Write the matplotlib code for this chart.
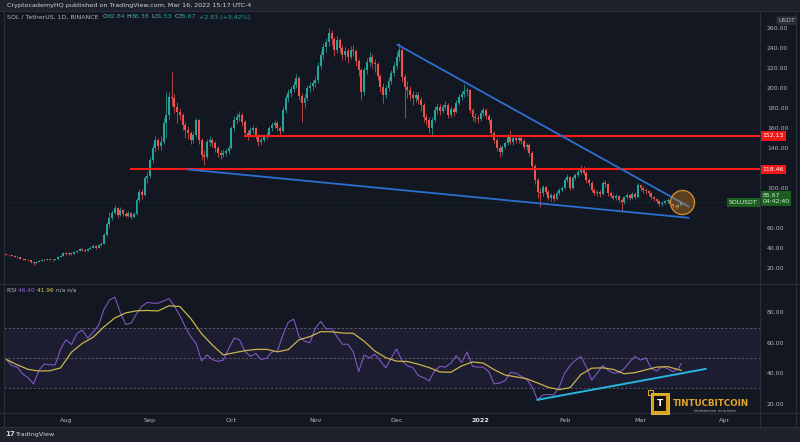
import matplotlib
matplotlib.use("Agg")
import matplotlib.pyplot as plt
import matplotlib.dates as mdates
from matplotlib.lines import Line2D
from matplotlib.patches import Rectangle
import pandas as pd

# SOL / TetherUS daily candles, 2021-07-10 .. 2022-03-16
START = "2021-07-10"
FIRST_OPEN = 33.6
closes = [
    33.2, 32.6, 32.1, 31.0, 30.4, 29.2, 28.6, 27.9, 27.4, 25.6,
    24.5, 26.1, 27.0, 28.2, 27.6, 28.6, 28.0, 27.7, 28.4, 31.1,
    32.2, 35.0, 33.4, 34.6, 34.0, 35.6, 37.1, 38.6, 38.0, 37.2,
    39.0, 40.2, 42.1, 39.6, 43.0, 44.0, 53.0, 63.5, 70.2, 75.0,
    80.0, 73.0, 78.0, 73.5, 72.0, 75.0, 70.5, 74.0, 88.0, 96.0,
    93, 110, 112, 128, 140, 148, 142, 146, 165, 173,
    191, 190, 181, 176, 173, 163, 158, 155, 148, 153,
    168, 148, 133, 131, 146, 148, 145, 140, 135, 133,
    135, 137, 140, 160, 168, 171, 173, 166, 155, 153,
    158, 160, 152, 146, 148, 151, 153, 160, 163, 165,
    160, 157, 178, 190, 195, 199, 203, 210, 192, 185,
    190, 200, 202, 205, 208, 222, 233, 241, 246, 255,
    249, 238, 248, 240, 233, 237, 231, 238, 237, 227,
    218, 196, 218, 226, 231, 225, 224, 212, 201, 193,
    200, 207, 215, 222, 231, 238, 211, 201, 198, 193,
    190, 193, 188, 183, 171, 168, 160, 168, 178, 181,
    177, 181, 183, 173, 179, 176, 185, 191, 194, 197,
    198, 178, 171, 170, 169, 175, 178, 172, 168, 155,
    148, 140, 136, 141, 145, 152, 146, 150, 148, 150,
    147, 141, 143, 135, 122, 108, 96, 95, 101, 96,
    90, 93, 89, 95, 98, 100, 108, 111, 100, 110,
    113, 116, 120, 115, 108, 105, 98, 95, 96, 94,
    105, 104, 95, 92, 90, 92, 88, 86, 91, 93,
    90, 94, 91, 103, 100, 98, 97, 95, 91, 89,
    87, 84, 85, 87, 88, 84, 82, 81, 82.84, 85.67,
]
highs = [
    34.5, 33.8, 33.0, 32.5, 31.8, 30.8, 29.6, 29.0, 28.3, 27.6,
    26.0, 26.6, 27.8, 28.9, 28.6, 29.2, 29.0, 28.4, 29.0, 31.8,
    33.0, 35.8, 36.2, 35.3, 35.1, 36.4, 38.0, 39.8, 39.6, 38.6,
    40.0, 41.3, 43.5, 42.6, 44.2, 45.6, 54.5, 65.8, 76.0, 78.0,
    82.5, 81.0, 80.5, 79.0, 75.5, 77.0, 76.0, 75.5, 90.0, 99.0,
    98.5, 112, 116, 131, 144, 152, 150, 152, 170, 196,
    196, 216, 194, 186, 180, 175, 166, 162, 157, 156,
    170, 169, 150, 138, 149, 152, 150, 147, 142, 138,
    139, 140, 143, 162, 172, 175, 177, 175, 168, 158,
    161, 163, 161, 154, 151, 153, 156, 162, 166, 168,
    167, 162, 181, 193, 199, 202, 207, 214, 212, 195,
    194, 203, 206, 208, 212, 226, 237, 245, 250, 260,
    258, 251, 252, 250, 243, 241, 240, 242, 243, 239,
    229, 220, 221, 230, 236, 234, 229, 226, 214, 205,
    203, 211, 218, 226, 236, 245, 240, 214, 207, 202,
    197, 196, 196, 191, 185, 174, 171, 171, 182, 185,
    184, 184, 187, 185, 182, 181, 188, 194, 197, 204,
    201, 199, 180, 175, 173, 178, 181, 180, 174, 170,
    157, 150, 143, 143, 147, 154, 158, 152, 152, 152,
    153, 149, 145, 145, 137, 124, 110, 100, 103, 102,
    98, 95, 95, 97, 100, 102, 110, 114, 112, 112,
    115, 119, 123, 122, 117, 110, 107, 100, 98, 98,
    107, 108, 105, 97, 94, 94, 93, 90, 92, 95,
    94, 96, 96, 105, 104, 102, 100, 98, 96, 92,
    90, 88, 87, 88, 90, 89, 85, 83, 84, 86.38,
]
lows = [
    32.8, 32.0, 31.5, 30.5, 29.8, 28.7, 27.8, 27.3, 26.5, 25.0,
    22.8, 24.2, 25.8, 26.8, 27.0, 27.4, 27.5, 27.1, 27.5, 28.2,
    30.6, 31.9, 32.8, 33.0, 33.2, 33.7, 35.2, 36.7, 37.2, 35.8,
    36.9, 38.5, 39.8, 38.8, 39.3, 42.1, 43.5, 52.0, 61.0, 67.5,
    73.5, 70.0, 72.0, 71.5, 70.5, 71.0, 68.5, 69.5, 73.0, 86.0,
    89, 92, 105, 110, 125, 136, 138, 138, 144, 150,
    168, 182, 175, 165, 168, 158, 150, 149, 144, 145,
    151, 144, 128, 123, 129, 142, 141, 136, 131, 129,
    131, 132, 134, 139, 157, 164, 167, 162, 152, 148,
    151, 155, 149, 142, 143, 146, 149, 152, 157, 160,
    157, 153, 156, 175, 186, 191, 196, 200, 188, 166,
    180, 187, 196, 198, 201, 205, 219, 229, 236, 242,
    243, 232, 235, 236, 228, 228, 225, 229, 232, 222,
    212, 188, 193, 214, 222, 220, 216, 208, 196, 185,
    190, 197, 204, 212, 219, 227, 206, 170, 190, 188,
    183, 186, 184, 177, 166, 163, 155, 153, 166, 174,
    173, 175, 178, 170, 171, 172, 175, 183, 188, 191,
    192, 175, 167, 166, 165, 167, 172, 169, 165, 152,
    145, 137, 131, 133, 139, 143, 144, 143, 145, 145,
    144, 139, 138, 132, 120, 104, 90, 81, 92, 94,
    88, 87, 87, 88, 93, 96, 99, 106, 98, 99,
    108, 111, 114, 113, 105, 102, 96, 93, 92, 91,
    93, 101, 92, 90, 88, 88, 86, 76, 84, 89,
    88, 89, 89, 90, 97, 95, 94, 92, 89, 87,
    85, 82, 82, 84, 85, 83, 80, 79, 80, 81.53,
]

# RSI(14) read every 2nd day, its moving average every 4th day (last value = last day)
rsi_vals = [
    49, 45, 44, 39.5, 37, 33, 42, 46, 45.5, 45.5,
    56, 62, 58.8, 66, 68.4, 63, 67, 71.5, 82, 88,
    90, 80, 72, 72.8, 79, 84, 86.5, 86, 86, 87.5,
    89, 84, 78, 70.5, 64, 59.5, 48, 52, 49, 47.7,
    48.6, 56, 63, 62, 54.5, 51, 53, 49, 49.8, 54,
    54.5, 65, 73.5, 75.5, 64, 61, 60, 69.5, 74, 69,
    69.5, 64, 59, 59, 54, 41, 52, 50, 52.5, 48,
    43.5, 50, 56, 48, 45, 43.5, 38.5, 37, 35, 41.5,
    44.5, 44, 46.5, 51.5, 47, 54, 44.5, 44, 44, 41,
    33, 33.5, 35, 40.5, 40, 38, 36, 31, 22.5, 25.7,
    26, 25.7, 31, 40, 45, 48.5, 51, 44, 35.5, 40,
    45, 42, 40, 40.5, 43, 47.5, 51, 48.6, 50, 43,
    41.5, 44.3, 43, 41, 43, 46.4,
]
rsi_ma_vals = [
    49, 45.5, 42.5, 41.4, 41.6, 43.5, 53.8, 59.6, 63.6, 70.5,
    76.3, 79.6, 81, 81.2, 80.9, 84.3, 83.8, 76, 66, 58.5,
    52, 53.4, 54.8, 55.6, 55.7, 54, 55.5, 62, 64, 67.3,
    67.2, 66.4, 66.2, 61, 54.5, 50.2, 47.9, 47.7, 45.9, 43.7,
    40.8, 40.6, 44.8, 47.4, 46.6, 42.3, 38.8, 37.6, 36.3, 33.6,
    30.7, 29.2, 30.5, 39.1, 43.3, 43.5, 42.5, 39.6, 40.4, 42.2,
    44, 44.3, 42.3, 41.96,
]

# drawings
levels = [152.13, 118.46]
level_starts = ["2021-10-06", "2021-08-25"]
upper_trend = [("2021-12-01", 244), ("2022-03-19", 81)]
lower_trend = [("2021-09-15", 118.5), ("2022-03-19", 70)]
rsi_trend = [("2022-01-22", 22.5), ("2022-03-25", 42.8)]
price_ticks = [20, 40, 60, 100, 140, 160, 180, 200, 220, 240, 260]
rsi_ticks = [20, 40, 60, 80]

BG = "#131722"
BAR = "#1e222d"
BORDER = "#2a2e39"
TXT = "#b2b5be"
UP = "#26a69a"
DOWN = "#ef5350"

W, H = 800, 442


def fx(px):
    return px / W


def fy(py):
    return 1 - py / H


def dnum(s):
    return mdates.date2num(pd.Timestamp(s).to_pydatetime())


dates = pd.date_range(START, periods=len(closes), freq="D")
x = mdates.date2num(dates.to_pydatetime())
opens = [FIRST_OPEN] + closes[:-1]
x0 = x[0]
xlim = (x0 - 0.9, x0 + 278.1)

fig = plt.figure(figsize=(8, 4.42), dpi=100, facecolor=BAR)
fig.add_artist(Rectangle((0, fy(427)), 1, fy(11) - fy(427),
                         transform=fig.transFigure, facecolor=BG, lw=0, zorder=-10))

ax = fig.add_axes([fx(4), fy(283), fx(756), fy(11) - fy(283)], facecolor=BG)
rax = fig.add_axes([fx(4), fy(412), fx(756), fy(284) - fy(412)], facecolor=BG)

# candles
cols = [UP if c >= o else DOWN for o, c in zip(opens, closes)]
ax.vlines(x, lows, highs, colors=cols, linewidth=0.6, alpha=0.85, zorder=2)
bottoms = [min(o, c) for o, c in zip(opens, closes)]
heights = [max(abs(c - o), 0.5) for o, c in zip(opens, closes)]
ax.bar(x, heights, bottom=bottoms, width=0.72, color=cols, linewidth=0, zorder=2.5)

# last price line
ax.axhline(closes[-1], color=UP, lw=0.5, ls=(0, (1, 2)), alpha=0.35, zorder=1)

# horizontal levels and trend lines
for lvl, st in zip(levels, level_starts):
    ax.plot([dnum(st), xlim[1]], [lvl, lvl], color="#ff1a1a", lw=1.5, zorder=3)
for seg in (upper_trend, lower_trend):
    ax.plot([dnum(seg[0][0]), dnum(seg[1][0])], [seg[0][1], seg[1][1]],
            color="#2c6fd1", lw=1.3, zorder=3, solid_capstyle="butt")

# highlight circle around the last candle
ax.scatter([x[-1] + 0.3], [closes[-1]], s=300, facecolor=(0.9, 0.55, 0.12, 0.35),
           edgecolor="#c98a2e", linewidth=1.0, zorder=4)

ax.set_xlim(*xlim)
ax.set_ylim(4.7, 277.3)
ax.set_xticks([])
ax.yaxis.tick_right()
ax.set_yticks(price_ticks)
ax.set_yticklabels([f"{v:.2f}" for v in price_ticks])
ax.tick_params(axis="y", length=0, pad=5, labelsize=4.4, labelcolor=TXT)
for sp in ax.spines.values():
    sp.set_visible(False)

# price scale labels
ytr = ax.get_yaxis_transform()
for lvl in levels:
    ax.text(1.003, lvl, f"{lvl:.2f}", transform=ytr, ha="left", va="center",
            fontsize=4.4, color="white", clip_on=False, zorder=6,
            bbox=dict(boxstyle="square,pad=0.35", fc="#f01818", ec="none"))
ax.text(1.003, closes[-1] + 3.6, f"{closes[-1]:.2f}\n04:42:40", transform=ytr,
        ha="left", va="center", fontsize=4.4, color="#d1f0d4", clip_on=False,
        linespacing=1.3, zorder=6,
        bbox=dict(boxstyle="square,pad=0.25", fc="#1b5e20", ec="none"))
ax.text(0.997, closes[-1], "SOLUSDT", transform=ytr, ha="right", va="center",
        fontsize=4.4, color="#d1f0d4", clip_on=False, zorder=6,
        bbox=dict(boxstyle="square,pad=0.35", fc="#1b5e20", ec="none"))
ax.text(1.024, 0.965, "USDT", transform=ax.transAxes, ha="left", va="center",
        fontsize=4.4, color=TXT, clip_on=False,
        bbox=dict(boxstyle="round,pad=0.3", fc=BORDER, ec="none"))

# RSI pane
rsi_x = [x0 + d for d in list(range(0, 249, 2)) + [249]]
ma_x = [x0 + d for d in list(range(0, 249, 4)) + [249]]
rax.axhspan(30, 70, color="#7e57c2", alpha=0.1, lw=0, zorder=0)
for lvl in (70, 50, 30):
    rax.axhline(lvl, color="#787b86", lw=0.6, ls=(0, (2.5, 2.5)), alpha=0.8, zorder=1)
rax.plot(rsi_x, rsi_vals, color="#7e57c2", lw=0.8, zorder=2)
rax.plot(ma_x, rsi_ma_vals, color="#c9b44c", lw=0.9, zorder=3)
rax.plot([dnum(rsi_trend[0][0]), dnum(rsi_trend[1][0])],
         [rsi_trend[0][1], rsi_trend[1][1]], color="#26b5e0", lw=1.4, zorder=4)
rax.set_xlim(*xlim)
rax.set_ylim(14.5, 98.6)
rax.yaxis.tick_right()
rax.set_yticks(rsi_ticks)
rax.set_yticklabels([f"{v:.2f}" for v in rsi_ticks])
rax.tick_params(axis="y", length=0, pad=5, labelsize=4.4, labelcolor=TXT)
months = pd.date_range("2021-08-01", "2022-04-01", freq="MS")
rax.set_xticks(mdates.date2num(months.to_pydatetime()))
rax.set_xticklabels([str(m.year) if m.month == 1 else m.strftime("%b") for m in months])
rax.tick_params(axis="x", length=0, pad=4, labelsize=4.6, labelcolor=TXT)
for lab, m in zip(rax.get_xticklabels(), months):
    if m.month == 1:
        lab.set_color("#e0e3eb")
        lab.set_fontweight("bold")
for sp in rax.spines.values():
    sp.set_visible(False)

# pane borders
for py in (11, 283.5, 412.5, 427):
    fig.add_artist(Line2D([0, 1], [fy(py), fy(py)], color=BORDER, lw=0.8))
for px in (4, 760, 796):
    fig.add_artist(Line2D([fx(px), fx(px)], [fy(11), fy(427)], color=BORDER, lw=0.8))


def rich_text(px, py, parts, size):
    renderer = fig.canvas.get_renderer()
    xf = fx(px)
    for s, col in parts:
        t = fig.text(xf, fy(py), s, color=col, fontsize=size, va="center", ha="left")
        xf += t.get_window_extent(renderer).width / fig.bbox.width


fig.text(fx(7), fy(5.5), "CryptocademyHQ published on TradingView.com, Mar 16, 2022 15:17 UTC-4",
         color="#d1d4dc", fontsize=4.6, va="center")
rich_text(7, 17, [("SOL / TetherUS, 1D, BINANCE  ", TXT), ("O", TXT), ("82.84", UP),
                  (" H", TXT), ("86.38", UP), (" L", TXT), ("81.53", UP),
                  (" C", TXT), ("85.67", UP), (" +2.83 (+3.42%)", UP)], 4.5)
rich_text(7, 290, [("RSI ", TXT), ("46.40 ", "#8e6ad6"), ("41.96 ", "#d8c65a"),
                   ("n/a n/a", TXT)], 4.2)

# footer
fig.text(fx(5), fy(434.5), "17", color="#d1d4dc", fontsize=5, fontweight="bold", va="center")
fig.text(fx(15), fy(434.5), "TradingView", color="#d1d4dc", fontsize=4.6, va="center")

# watermark logo
fig.add_artist(Rectangle((fx(648), fy(395)), fx(5), fy(390) - fy(395),
                         transform=fig.transFigure, fill=False, ec="#d9a520", lw=0.8, zorder=5))
fig.add_artist(Rectangle((fx(651), fy(414)), fx(18), fy(393) - fy(414),
                         transform=fig.transFigure, fc="#d9a520", ec="#f3c84a", lw=0.6, zorder=5))
fig.add_artist(Rectangle((fx(654), fy(411)), fx(12), fy(396) - fy(411),
                         transform=fig.transFigure, fc="#111111", ec="none", zorder=6))
fig.text(fx(660), fy(403.5), "T", color="white", fontsize=6.5, fontweight="bold",
         ha="center", va="center", zorder=7)
fig.text(fx(673), fy(403), "TINTUCBITCOIN", color="#e0a62a", fontsize=6.3,
         fontweight="bold", ha="left", va="center", zorder=7)
fig.text(fx(694), fy(410.5), "tintucbitcoin.com - tin tuc bitcoin", color="#cfcfcf",
         fontsize=1.8, ha="left", va="center", zorder=7)

fig.savefig("out.png", dpi=100, facecolor=fig.get_facecolor())
